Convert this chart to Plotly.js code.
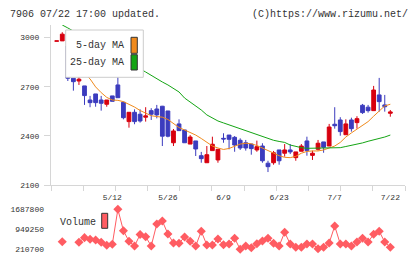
<!DOCTYPE html>
<html><head><meta charset="utf-8">
<script src="https://cdn.plot.ly/plotly-3.0.1.min.js"></script>
<style>html,body{margin:0;padding:0;background:#fff}#c{width:420px;height:259px}</style>
</head><body><div id="c"></div>
<script>
const dates = ["4/23","4/24","4/25","4/28","4/30","5/1","5/2","5/7","5/8","5/9",
"5/12","5/13","5/14","5/15","5/16","5/19","5/20","5/21","5/22","5/23",
"5/26","5/27","5/28","5/29","5/30","6/2","6/3","6/4","6/5","6/6",
"6/9","6/10","6/11","6/12","6/13","6/16","6/17","6/18","6/19","6/20",
"6/23","6/24","6/25","6/26","6/27","6/30","7/1","7/2","7/3","7/4",
"7/7","7/8","7/9","7/10","7/11","7/14","7/15","7/16","7/17","7/18","7/22"];
const open  = [2978,2980,2949,2752,2735,2705,2619,2656,2619,2593,2644,2711,2605,2487,2544,2532,2514,2554,2564,2581,2552,2358,2473,2436,2350,2369,2279,2236,2310,2253,2385,2405,2391,2373,2358,2350,2314,2338,2233,2236,2314,2294,2314,2267,2306,2369,2281,2318,2363,2338,2471,2497,2407,2497,2481,2587,2575,2554,2650,2589,2538];
const high  = [2980,3033,2975,2752,2772,2705,2644,2656,2644,2619,2644,2807,2609,2544,2562,2562,2575,2569,2589,2583,2552,2442,2501,2436,2405,2369,2302,2338,2395,2318,2416,2405,2399,2385,2375,2350,2371,2355,2248,2308,2314,2350,2350,2302,2350,2395,2310,2375,2363,2473,2575,2514,2501,2511,2520,2595,2589,2705,2754,2650,2558];
const low   = [2978,2980,2735,2676,2711,2589,2575,2578,2554,2578,2611,2633,2501,2450,2471,2481,2487,2497,2507,2338,2391,2338,2432,2358,2350,2277,2236,2236,2310,2236,2358,2318,2303,2314,2310,2285,2303,2236,2179,2224,2224,2273,2289,2248,2306,2279,2253,2310,2297,2338,2444,2401,2407,2426,2444,2534,2542,2554,2548,2548,2517];
const close = [2980,3021,2752,2731,2746,2646,2603,2603,2599,2619,2611,2633,2511,2544,2487,2491,2522,2532,2528,2398,2398,2430,2432,2358,2393,2320,2261,2285,2349,2318,2381,2379,2344,2326,2326,2322,2334,2248,2212,2297,2248,2314,2302,2302,2338,2310,2294,2355,2330,2454,2462,2426,2473,2444,2505,2542,2554,2680,2609,2578,2546];
const ma5 = [null,null,null,null,2850,2780,2748,2699,2664,2635,2619,2617,2609,2595,2576,2555,2540,2523,2518,2514,2500,2476,2451,2436,2421,2405,2384,2360,2338,2326,2317,2323,2338,2350,2355,2352,2341,2324,2311,2295,2279,2269,2267,2275,2294,2305,2308,2308,2314,2324,2338,2360,2393,2418,2440,2462,2487,2520,2552,2583,2593];
const ma25 = [null,3077,3059,null,null,null,null,null,null,null,null,null,null,null,null,null,2790,2769,2746,2729,2711,2691,2668,2631,2607,2583,2558,2528,2509,2491,2479,2467,2454,2445,2433,2418,2405,2393,2381,2373,2366,2360,2344,2335,2328,2324,2324,2324,2324,2324,2324,2328,2335,2341,2347,2357,2367,2375,2384,2393,2405];
const volume = [null,491000,null,null,469000,640000,580000,554000,469000,358000,395000,1687800,897000,506000,332000,757000,676000,332000,1145000,1256000,776000,443000,432000,665000,506000,332000,875000,369000,369000,591000,380000,406000,617000,210700,332000,270000,417000,517000,617000,432000,332000,838000,406000,284000,284000,406000,406000,233000,284000,443000,1071000,406000,406000,332000,480000,617000,480000,765000,875000,480000,284000];
const priceTicks = [2100,2400,2700,3000];
const volTicks = [210700,949250,1687800];
const labelDates = ["5/12","5/26","6/9","6/23","7/7","7/22"];
const headerLeft = "7906 07/22 17:00 updated.";
const headerRight = "(C)https://www.rizumu.net/";
const legendNames = ["5-day MA","25-day MA"];

const idx = dates.map((d,i)=>i);
const W=420,H=259;
const px = v=>v/W, py = v=>1-v/H;
const MONO = "Liberation Mono, DejaVu Sans Mono, monospace";
const RED="#d7000f", BLUE="#3c3cbe", ORANGE="#f08a1c", GREEN="#14a514", VOL="#ff5c62", AX="#d6d6d6";

const traces = [
 {type:"candlestick", x:idx, open:open, high:high, low:low, close:close, xaxis:"x", yaxis:"y",
  increasing:{line:{color:RED,width:1},fillcolor:RED},
  decreasing:{line:{color:BLUE,width:1},fillcolor:BLUE},
  whiskerwidth:0, hoverinfo:"skip"},
 {type:"scatter", mode:"lines", x:idx, y:ma5, line:{color:ORANGE,width:1}, xaxis:"x", yaxis:"y", cliponaxis:false, hoverinfo:"skip"},
 {type:"scatter", mode:"lines", x:idx, y:ma25, connectgaps:true, line:{color:GREEN,width:1}, xaxis:"x", yaxis:"y", cliponaxis:false, hoverinfo:"skip"},
 {type:"scatter", mode:"lines+markers", x:idx, y:volume, line:{color:VOL,width:1},
  marker:{symbol:"diamond", size:7, color:VOL}, xaxis:"x2", yaxis:"y2", cliponaxis:false, hoverinfo:"skip"}
];

const xr = [-1.025, 62.64];
const layout = {
 width:W, height:H, margin:{l:0,r:0,t:0,b:0}, paper_bgcolor:"#fff", plot_bgcolor:"#fff",
 showlegend:false, boxgap:0.2, boxgroupgap:0.15,
 font:{family:MONO, color:"#333"},
 xaxis:{domain:[px(51),px(405)], range:xr, anchor:"y", showline:true, linecolor:AX, linewidth:1,
   showgrid:false, zeroline:false, tickmode:"array",
   tickvals:labelDates.map(d=>dates.indexOf(d)), ticktext:labelDates, ticks:"",
   tickfont:{family:MONO,size:8,color:"#333"}, ticklabelstandoff:4,
   minor:{ticks:"outside", ticklen:5, tickcolor:AX, tickwidth:1, tick0:xr[0], dtick:(xr[1]-xr[0])/11, showgrid:false},
   rangeslider:{visible:false}, fixedrange:true},
 yaxis:{domain:[py(185),py(25)], range:[2100,3077], anchor:"x", showline:true, linecolor:AX, linewidth:1,
   showgrid:false, zeroline:false, tickmode:"array", tickvals:priceTicks, ticks:"outside", ticklen:6, tickcolor:AX,
   tickfont:{family:MONO,size:8,color:"#333"}, ticklabelstandoff:3, fixedrange:true},
 xaxis2:{domain:[px(51),px(405)], range:xr, anchor:"y2", visible:false, fixedrange:true},
 yaxis2:{domain:[py(253.3),py(205.3)], range:[62990,1835510], anchor:"x2", showline:false, showgrid:false, zeroline:false,
   tickmode:"array", tickvals:volTicks, tickformat:"d", ticks:"", tickfont:{family:MONO,size:8,color:"#333"},
   ticklabelstandoff:6, fixedrange:true},
 shapes:[
  {type:"rect", xref:"paper", yref:"paper", x0:px(65.7), x1:px(143.3), y0:py(77.3), y1:py(30), fillcolor:"#fff", line:{color:"#cccccc",width:1}, layer:"above"},
  {type:"rect", xref:"paper", yref:"paper", x0:px(131), x1:px(137.3), y0:py(53.3), y1:py(37.3), fillcolor:ORANGE, line:{color:"#333",width:1}, layer:"above"},
  {type:"rect", xref:"paper", yref:"paper", x0:px(131), x1:px(137.3), y0:py(70), y1:py(54.7), fillcolor:GREEN, line:{color:"#333",width:1}, layer:"above"},
  {type:"rect", xref:"paper", yref:"paper", x0:px(101.7), x1:px(107.7), y0:py(228.3), y1:py(213.3), fillcolor:VOL, line:{color:"#333",width:1}, layer:"above"}
 ],
 annotations:[
  {xref:"paper", yref:"paper", x:px(8), y:py(14), xanchor:"left", yanchor:"middle", text:headerLeft, showarrow:false, font:{family:MONO,size:10,color:"#333"}},
  {xref:"paper", yref:"paper", x:px(410), y:py(14), xanchor:"right", yanchor:"middle", text:headerRight, showarrow:false, font:{family:MONO,size:10,color:"#333"}},
  {xref:"paper", yref:"paper", x:px(126), y:py(46), xanchor:"right", yanchor:"middle", text:legendNames[0], showarrow:false, font:{family:MONO,size:10,color:"#333"}},
  {xref:"paper", yref:"paper", x:px(126), y:py(63), xanchor:"right", yanchor:"middle", text:legendNames[1], showarrow:false, font:{family:MONO,size:10,color:"#333"}},
  {xref:"paper", yref:"paper", x:px(58), y:py(222.7), xanchor:"left", yanchor:"middle", text:"Volume", showarrow:false, font:{family:MONO,size:10,color:"#333"}}
 ]
};
Plotly.newPlot("c", traces, layout, {staticPlot:true, displayModeBar:false});
</script></body></html>
